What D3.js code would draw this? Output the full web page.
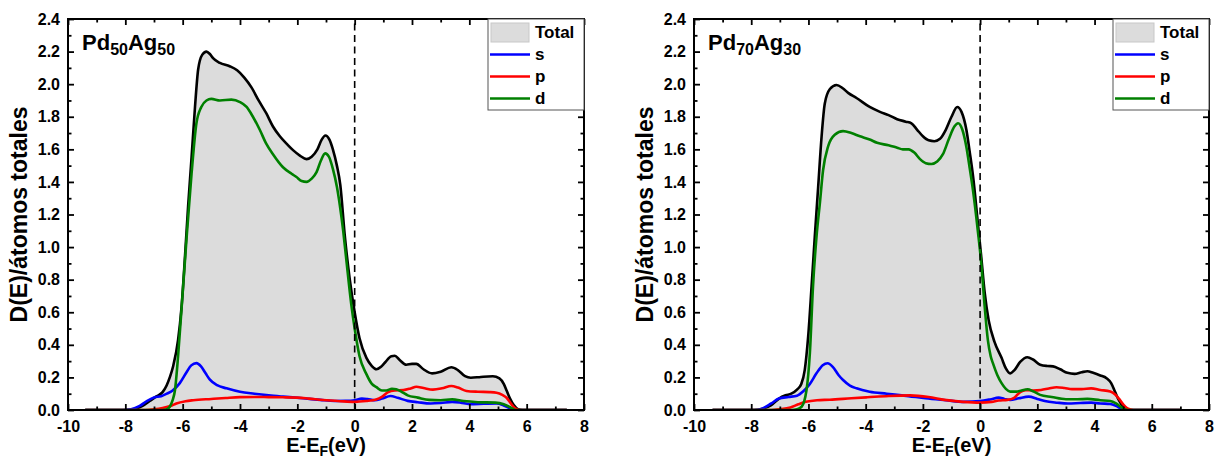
<!DOCTYPE html>
<html>
<head>
<meta charset="utf-8">
<script src="https://cdn.jsdelivr.net/npm/d3@7"></script>
<style>
  html, body { margin: 0; padding: 0; background: #fff; }
  svg { display: block; }
  text { font-family: "Liberation Sans", Arial, Helvetica, sans-serif; font-weight: bold; fill: #000; }
</style>
</head>
<body>
<svg id="chart" width="1220" height="460"></svg>
<script>
// Densidad de estados proyectada (Total, s, p, d) para dos aleaciones Pd-Ag.
// Cada serie: pares [E - E_F (eV), D(E) por átomo].

const xTicks = [-10, -8, -6, -4, -2, 0, 2, 4, 6, 8];
const xMinor = [-9, -7, -5, -3, -1, 1, 3, 5, 7];
const yTicks = [0, 0.2, 0.4, 0.6, 0.8, 1.0, 1.2, 1.4, 1.6, 1.8, 2.0, 2.2, 2.4];
const yMinor = [0.1, 0.3, 0.5, 0.7, 0.9, 1.1, 1.3, 1.5, 1.7, 1.9, 2.1, 2.3];

const seriesNames = ["Total", "s", "p", "d"];
const seriesColors = { s: "#0000ff", p: "#ff0000", d: "#008000" };

// ---------- Pd50Ag50 ----------
const pd50Total = [[-9.4,0],[-8.0,0],[-7.7,0.005],[-7.4,0.025],[-7.15,0.055],[-6.9,0.085],[-6.7,0.11],[-6.56,0.15],[-6.45,0.2],[-6.33,0.27],[-6.16,0.43],[-6.04,0.63],[-5.92,0.94],[-5.81,1.25],[-5.69,1.55],[-5.57,1.86],[-5.46,2.09],[-5.32,2.18],[-5.17,2.2],[-5.05,2.185],[-4.94,2.16],[-4.7,2.13],[-4.36,2.11],[-4.1,2.085],[-3.85,2.04],[-3.6,1.98],[-3.35,1.9],[-3.08,1.82],[-2.85,1.74],[-2.61,1.68],[-2.35,1.63],[-2.15,1.595],[-1.9,1.56],[-1.68,1.54],[-1.5,1.555],[-1.3,1.6],[-1.15,1.66],[-1.02,1.685],[-0.88,1.66],[-0.76,1.6],[-0.62,1.5],[-0.5,1.38],[-0.35,1.08],[-0.17,0.8],[0.0,0.6],[0.17,0.44],[0.41,0.32],[0.6,0.27],[0.76,0.25],[0.92,0.265],[1.05,0.29],[1.28,0.33],[1.4,0.333],[1.57,0.307],[1.8,0.278],[2.0,0.283],[2.15,0.283],[2.4,0.25],[2.7,0.225],[3.0,0.235],[3.37,0.262],[3.6,0.245],[3.85,0.208],[4.05,0.198],[4.4,0.203],[4.82,0.207],[5.05,0.194],[5.2,0.16],[5.3,0.12],[5.42,0.07],[5.55,0.03],[5.7,0.005],[5.85,0],[7.4,0]];
const pd50S = [[-9.4,0],[-8.1,0],[-7.8,0.005],[-7.5,0.025],[-7.25,0.055],[-7.0,0.077],[-6.75,0.085],[-6.55,0.1],[-6.35,0.12],[-6.1,0.165],[-5.87,0.23],[-5.7,0.274],[-5.52,0.288],[-5.36,0.268],[-5.2,0.225],[-5.05,0.186],[-4.8,0.152],[-4.47,0.133],[-4.0,0.112],[-3.5,0.1],[-3.0,0.09],[-2.5,0.082],[-1.8,0.072],[-1.2,0.062],[-0.7,0.055],[-0.3,0.056],[0.0,0.06],[0.25,0.07],[0.45,0.067],[0.7,0.06],[0.95,0.07],[1.25,0.086],[1.5,0.075],[1.85,0.056],[2.2,0.048],[2.65,0.04],[3.0,0.043],[3.4,0.05],[3.7,0.045],[4.0,0.036],[4.5,0.038],[4.95,0.04],[5.2,0.028],[5.4,0.012],[5.6,0],[7.4,0]];
const pd50P = [[-9.4,0],[-7.3,0],[-7.0,0.004],[-6.7,0.012],[-6.4,0.026],[-6.22,0.04],[-5.9,0.054],[-5.63,0.06],[-5.0,0.068],[-4.5,0.074],[-4.0,0.079],[-3.5,0.08],[-3.0,0.079],[-2.5,0.078],[-2.0,0.076],[-1.6,0.07],[-1.1,0.061],[-0.5,0.054],[0.0,0.05],[0.4,0.055],[0.75,0.064],[0.95,0.08],[1.15,0.108],[1.4,0.12],[1.7,0.122],[1.95,0.132],[2.15,0.143],[2.4,0.135],[2.73,0.125],[3.05,0.133],[3.37,0.147],[3.6,0.138],[3.9,0.117],[4.3,0.112],[4.7,0.11],[4.95,0.106],[5.15,0.093],[5.3,0.075],[5.45,0.04],[5.6,0.01],[5.75,0],[7.4,0]];
const pd50D = [[-9.4,0],[-6.7,0],[-6.55,0.005],[-6.45,0.02],[-6.35,0.06],[-6.27,0.12],[-6.16,0.33],[-6.04,0.62],[-5.87,1.04],[-5.69,1.45],[-5.52,1.76],[-5.35,1.86],[-5.17,1.9],[-5.0,1.91],[-4.7,1.9],[-4.3,1.905],[-4.0,1.89],[-3.77,1.86],[-3.55,1.8],[-3.31,1.72],[-3.1,1.64],[-2.85,1.57],[-2.5,1.49],[-2.2,1.45],[-2.03,1.43],[-1.85,1.405],[-1.68,1.40],[-1.5,1.42],[-1.33,1.46],[-1.18,1.53],[-1.03,1.575],[-0.9,1.555],[-0.76,1.48],[-0.62,1.37],[-0.52,1.26],[-0.4,1.1],[-0.29,0.92],[-0.12,0.65],[0.0,0.5],[0.17,0.33],[0.41,0.22],[0.6,0.16],[0.76,0.14],[0.95,0.12],[1.1,0.12],[1.3,0.13],[1.45,0.127],[1.65,0.11],[1.85,0.09],[2.2,0.076],[2.6,0.062],[3.0,0.06],[3.4,0.065],[3.8,0.055],[4.3,0.048],[4.9,0.045],[5.2,0.035],[5.45,0.015],[5.62,0],[7.4,0]];

// ---------- Pd70Ag30 ----------
const pd70Total = [[-9.35,0],[-7.9,0],[-7.6,0.008],[-7.3,0.03],[-7.03,0.07],[-6.8,0.09],[-6.6,0.1],[-6.4,0.125],[-6.25,0.16],[-6.13,0.245],[-6.01,0.45],[-5.89,0.76],[-5.78,1.06],[-5.66,1.37],[-5.54,1.68],[-5.43,1.88],[-5.25,1.97],[-5.02,1.995],[-4.8,1.975],[-4.6,1.945],[-4.32,1.915],[-3.86,1.86],[-3.5,1.83],[-3.2,1.81],[-2.9,1.785],[-2.6,1.77],[-2.4,1.76],[-2.2,1.72],[-2.0,1.68],[-1.8,1.655],[-1.6,1.65],[-1.4,1.665],[-1.2,1.72],[-1.0,1.8],[-0.8,1.86],[-0.65,1.83],[-0.48,1.72],[-0.36,1.58],[-0.25,1.44],[-0.08,1.15],[0.04,0.94],[0.16,0.72],[0.3,0.55],[0.5,0.42],[0.75,0.32],[0.9,0.255],[1.05,0.225],[1.2,0.245],[1.4,0.295],[1.65,0.324],[1.85,0.31],[2.1,0.278],[2.35,0.27],[2.55,0.268],[2.8,0.25],[3.05,0.228],[3.3,0.222],[3.55,0.232],[3.75,0.238],[3.95,0.228],[4.2,0.212],[4.42,0.195],[4.58,0.165],[4.72,0.11],[4.85,0.06],[5.0,0.02],[5.2,0],[7.0,0]];
const pd70S = [[-9.35,0],[-7.9,0],[-7.6,0.01],[-7.3,0.04],[-7.03,0.07],[-6.7,0.08],[-6.4,0.088],[-6.18,0.115],[-5.95,0.16],[-5.72,0.225],[-5.5,0.275],[-5.33,0.287],[-5.15,0.265],[-4.95,0.215],[-4.79,0.184],[-4.55,0.15],[-4.32,0.133],[-3.86,0.112],[-3.26,0.10],[-2.5,0.085],[-1.91,0.072],[-1.2,0.06],[-0.57,0.05],[0.0,0.055],[0.35,0.065],[0.65,0.076],[0.85,0.068],[1.05,0.062],[1.35,0.072],[1.7,0.082],[2.0,0.068],[2.26,0.055],[2.7,0.045],[3.07,0.04],[3.5,0.043],[3.88,0.045],[4.2,0.04],[4.55,0.037],[4.75,0.025],[4.96,0.005],[5.1,0],[7.0,0]];
const pd70P = [[-9.35,0],[-7.3,0],[-7.0,0.005],[-6.63,0.016],[-6.35,0.035],[-6.09,0.05],[-5.7,0.06],[-5.25,0.063],[-4.5,0.072],[-3.94,0.078],[-3.2,0.086],[-2.45,0.09],[-1.8,0.08],[-1.24,0.062],[-0.6,0.05],[0.0,0.045],[0.4,0.05],[0.65,0.058],[0.95,0.062],[1.19,0.075],[1.4,0.11],[1.59,0.122],[1.85,0.12],[2.13,0.123],[2.4,0.132],[2.67,0.14],[2.95,0.135],[3.21,0.128],[3.55,0.128],[3.88,0.133],[4.2,0.123],[4.55,0.113],[4.72,0.095],[4.85,0.07],[5.0,0.035],[5.15,0.01],[5.36,0],[7.0,0]];
const pd70D = [[-9.35,0],[-6.6,0],[-6.4,0.005],[-6.24,0.02],[-6.07,0.12],[-5.95,0.35],[-5.84,0.76],[-5.72,1.06],[-5.6,1.27],[-5.49,1.47],[-5.31,1.62],[-5.08,1.69],[-4.79,1.712],[-4.5,1.7],[-4.2,1.68],[-3.86,1.66],[-3.6,1.64],[-3.2,1.625],[-2.9,1.61],[-2.7,1.6],[-2.5,1.6],[-2.3,1.58],[-2.1,1.54],[-1.9,1.515],[-1.7,1.51],[-1.5,1.525],[-1.3,1.57],[-1.1,1.66],[-0.9,1.74],[-0.77,1.76],[-0.62,1.72],[-0.48,1.615],[-0.36,1.48],[-0.25,1.35],[-0.08,1.10],[0.04,0.90],[0.16,0.634],[0.27,0.43],[0.37,0.33],[0.45,0.286],[0.6,0.215],[0.75,0.165],[0.9,0.13],[1.05,0.113],[1.25,0.113],[1.45,0.12],[1.66,0.127],[1.85,0.115],[2.1,0.093],[2.5,0.08],[3.0,0.066],[3.4,0.066],[3.75,0.068],[4.2,0.06],[4.55,0.055],[4.75,0.04],[4.95,0.015],[5.15,0],[7.0,0]];

const alloys = [
  { pd: "50", ag: "50", total: pd50Total, s: pd50S, p: pd50P, d: pd50D },
  { pd: "70", ag: "30", total: pd70Total, s: pd70S, p: pd70P, d: pd70D }
];

const svg = d3.select("#chart");
const frames = [{ left: 68, right: 584 }, { left: 694, right: 1209 }];
const plotTop = 19, plotBottom = 410;

alloys.forEach((alloy, i) => {
  const { left, right } = frames[i];
  const x = d3.scaleLinear().domain([-10, 8]).range([left, right]);
  const y = d3.scaleLinear().domain([0, 2.4]).range([plotBottom, plotTop]);
  const g = svg.append("g");

  const clipId = "clip" + i;
  g.append("clipPath").attr("id", clipId)
    .append("rect").attr("x", left).attr("y", plotTop)
    .attr("width", right - left).attr("height", plotBottom - plotTop);

  const curve = d3.curveMonotoneX;
  const area = d3.area().x(d => x(d[0])).y0(y(0)).y1(d => y(d[1])).curve(curve);
  const line = d3.line().x(d => x(d[0])).y(d => y(d[1])).curve(curve);

  const plot = g.append("g").attr("clip-path", `url(#${clipId})`);
  plot.append("path").datum(alloy.total).attr("d", area)
    .attr("fill", "#dcdcdc").attr("stroke", "none");
  plot.append("path").datum(alloy.total).attr("d", line)
    .attr("fill", "none").attr("stroke", "#000").attr("stroke-width", 2.6)
    .attr("stroke-linejoin", "round");
  ["s", "p", "d"].forEach(k => {
    plot.append("path").datum(alloy[k]).attr("d", line)
      .attr("fill", "none").attr("stroke", seriesColors[k]).attr("stroke-width", 2.6)
      .attr("stroke-linejoin", "round");
  });

  // Nivel de Fermi
  g.append("line")
    .attr("x1", x(0)).attr("x2", x(0)).attr("y1", y(0)).attr("y2", y(2.4))
    .attr("stroke", "#000").attr("stroke-width", 1.6).attr("stroke-dasharray", "7,4.5");

  // Ejes con marcas hacia dentro (mayores y menores) en los cuatro lados
  const styleAxis = sel => {
    sel.select(".domain").remove();
    sel.selectAll(".tick line").attr("stroke", "#000").attr("stroke-width", 1.8);
    sel.selectAll(".tick text").style("font-size", "16px").attr("font-family", null).attr("fill", "#000");
  };
  const fmtX = d => String(d);
  const fmtY = d3.format(".1f");

  g.append("g").attr("transform", `translate(0,${plotBottom})`)
    .call(d3.axisBottom(x).tickValues(xTicks).tickFormat(fmtX).tickSizeInner(-6).tickSizeOuter(0).tickPadding(11))
    .call(styleAxis);
  g.append("g").attr("transform", `translate(0,${plotBottom})`)
    .call(d3.axisBottom(x).tickValues(xMinor).tickFormat("").tickSizeInner(-3.5).tickSizeOuter(0))
    .call(styleAxis);
  g.append("g").attr("transform", `translate(0,${plotTop})`)
    .call(d3.axisTop(x).tickValues(xTicks).tickFormat("").tickSizeInner(-6).tickSizeOuter(0))
    .call(styleAxis);
  g.append("g").attr("transform", `translate(0,${plotTop})`)
    .call(d3.axisTop(x).tickValues(xMinor).tickFormat("").tickSizeInner(-3.5).tickSizeOuter(0))
    .call(styleAxis);
  g.append("g").attr("transform", `translate(${left},0)`)
    .call(d3.axisLeft(y).tickValues(yTicks).tickFormat(fmtY).tickSizeInner(-6).tickSizeOuter(0).tickPadding(8))
    .call(styleAxis);
  g.append("g").attr("transform", `translate(${left},0)`)
    .call(d3.axisLeft(y).tickValues(yMinor).tickFormat("").tickSizeInner(-3.5).tickSizeOuter(0))
    .call(styleAxis);
  g.append("g").attr("transform", `translate(${right},0)`)
    .call(d3.axisRight(y).tickValues(yTicks).tickFormat("").tickSizeInner(-6).tickSizeOuter(0))
    .call(styleAxis);
  g.append("g").attr("transform", `translate(${right},0)`)
    .call(d3.axisRight(y).tickValues(yMinor).tickFormat("").tickSizeInner(-3.5).tickSizeOuter(0))
    .call(styleAxis);

  // Marco
  g.append("rect").attr("x", left).attr("y", plotTop)
    .attr("width", right - left).attr("height", plotBottom - plotTop)
    .attr("fill", "none").attr("stroke", "#000").attr("stroke-width", 2);

  // Título de la aleación
  const t = g.append("text").attr("x", left + 14).attr("y", 50).style("font-size", "22px");
  t.append("tspan").text("Pd");
  t.append("tspan").attr("dy", 5).style("font-size", "16px").text(alloy.pd);
  t.append("tspan").attr("dy", -5).text("Ag");
  t.append("tspan").attr("dy", 5).style("font-size", "16px").text(alloy.ag);

  // Título del eje x
  const xt = g.append("text").attr("x", (left + right) / 2).attr("y", 452)
    .attr("text-anchor", "middle").style("font-size", "20px");
  xt.append("tspan").text("E-E");
  xt.append("tspan").attr("dy", 4).style("font-size", "14px").text("F");
  xt.append("tspan").attr("dy", -4).text("(eV)");

  // Título del eje y
  g.append("text")
    .attr("transform", `translate(${left - 41},${(plotTop + plotBottom) / 2}) rotate(-90)`)
    .attr("text-anchor", "middle").style("font-size", "23px")
    .text("D(E)/átomos totales");

  // Leyenda
  const lw = 96, lh = 91;
  const lx = right - lw, ly = plotTop;
  const leg = g.append("g");
  leg.append("rect").attr("x", lx).attr("y", ly).attr("width", lw).attr("height", lh)
    .attr("fill", "#fff").attr("stroke", "#555").attr("stroke-width", 1);
  leg.append("rect").attr("x", lx + 3).attr("y", ly + 4).attr("width", 38).attr("height", 19)
    .attr("fill", "#dcdcdc").attr("stroke", "#c8c8c8").attr("stroke-width", 1);
  seriesNames.forEach((name, j) => {
    const rowY = ly + 13 + j * 22;
    if (j > 0) {
      leg.append("line").attr("x1", lx + 2).attr("x2", lx + 42)
        .attr("y1", rowY + 0.5).attr("y2", rowY + 0.5)
        .attr("stroke", seriesColors[name]).attr("stroke-width", 2.6);
    }
    leg.append("text").attr("x", lx + 47).attr("y", rowY + 6).style("font-size", "17px").text(name);
  });
});
</script>
</body>
</html>
